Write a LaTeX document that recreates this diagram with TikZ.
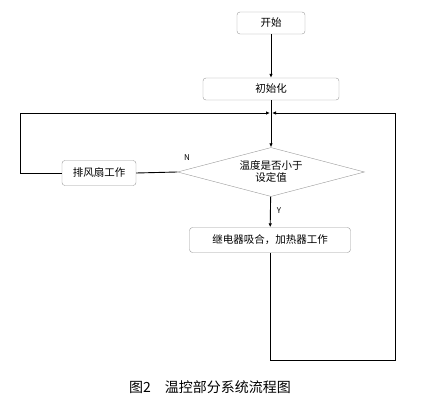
\documentclass[tikz,border=0pt]{standalone}
\usepackage{fontspec}
\setmainfont{Noto Sans CJK SC}
\setsansfont{Noto Sans CJK SC}
\usetikzlibrary{shapes.geometric,arrows.meta}

\tikzset{
  stepbox/.style={rectangle, rounded corners=3pt, draw=gray!80, thin, minimum height=22pt, inner sep=2pt, font=\fontsize{10.5}{12}\selectfont},
  decision/.style={diamond, aspect=3.8, draw=gray!80, thin, minimum width=187pt, minimum height=49pt, inner sep=0pt, align=center, font=\fontsize{10.5}{12}\selectfont},
  flow/.style={line width=0.9pt, -{Latex[length=4pt,width=3.5pt]}},
  link/.style={line width=0.9pt},
  tag/.style={font=\fontsize{8}{9}\selectfont}
}

\begin{document}
\begin{tikzpicture}[x=1pt, y=-1pt]
  \useasboundingbox (0,0) rectangle (423,411);

  % Blocchi del diagramma
  \node[stepbox, minimum width=68pt] (start) at (271, 23) {开始};
  \node[stepbox, minimum width=136pt] (init) at (271, 89) {初始化};
  \node[decision] (check) at (271, 172) {温度是否小于\\设定值};
  \node[stepbox, minimum width=74pt, minimum height=25pt] (fan) at (99, 173) {排风扇工作};
  \node[stepbox, minimum width=161pt, minimum height=25pt] (heat) at (270, 240) {继电器吸合，加热器工作};

  % Punti di raccordo
  \coordinate (join) at (271, 113);
  \coordinate (lefttop) at (20, 113);
  \coordinate (rightbot) at (395, 360);
  \coordinate (righttop) at (395, 113);

  % Flusso principale
  \draw[flow] (start) -- (init);
  \draw[flow] (init) -- (check);
  \draw[flow] (check) -- (heat);

  % Ramo N
  \draw[link] (check.west) -- (fan.east);
  \draw[flow, shorten >=1pt] (fan.west) -- (fan.west -| lefttop) -- (lefttop) -- (join);

  % Ramo Y
  \draw[flow, shorten >=1pt] (heat.south) -- (heat.south |- rightbot) -- (rightbot) -- (righttop) -- (join);

  % Etichette
  \node[tag] (no) at (187, 158) {N};
  \node[tag] (yes) at (279, 211) {Y};

  % Didascalia
  \node[font=\fontsize{14}{16}\selectfont] (caption) at (210, 387) {图2\quad 温控部分系统流程图};
\end{tikzpicture}
\end{document}
